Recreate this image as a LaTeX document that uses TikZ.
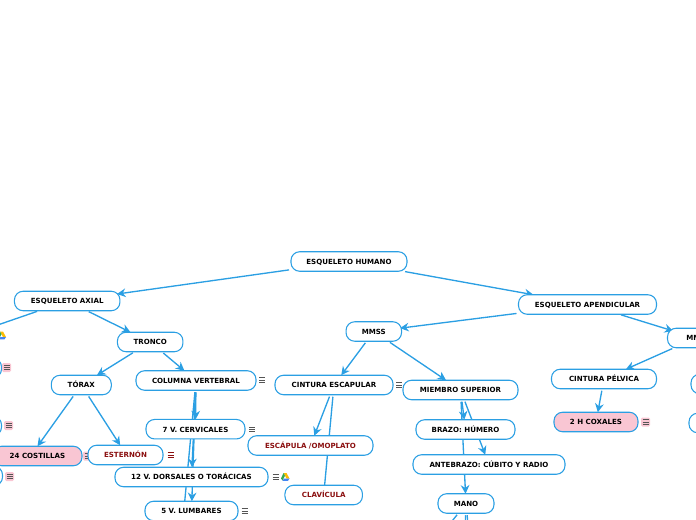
\documentclass[tikz,border=0pt]{standalone}
\usepackage{fontspec}
\setmainfont{DejaVu Sans}
\usetikzlibrary{arrows.meta,backgrounds}
\definecolor{mapblue}{HTML}{2B9FE3}
\definecolor{mappink}{HTML}{F9C6D3}
\definecolor{mapred}{HTML}{8B1010}
\definecolor{mapgray}{HTML}{555555}
\definecolor{drivegreen}{HTML}{34A853}
\definecolor{driveyellow}{HTML}{FBBC04}
\definecolor{driveblue}{HTML}{4285F4}
\newlength{\px}
\setlength{\px}{0.75pt}
\tikzset{
    topic/.style={draw=mapblue, fill=white, line width=0.8pt, rounded corners=6.5pt, inner sep=0pt, outer sep=0pt,
        minimum height=19.5\px, text height=4.4pt, text depth=0pt, text=black,
        font=\bfseries\fontsize{5.3}{7}\selectfont},
    pinktopic/.style={topic, fill=mappink},
    redtopic/.style={topic, text=mapred},
    link/.style={-{Stealth[length=6.5pt,width=6.5pt]}, draw=mapblue, line width=1pt, shorten <=2\px},
    plainlink/.style={draw=mapblue, line width=1pt, shorten <=2\px},
    pics/menubars/.style={code={
        \draw[draw=#1, line width=0.55pt] (-3,-2.3) -- (3,-2.3) (-3,0) -- (3,0) (-3,2.3) -- (3,2.3);
    }},
    pics/pinkbars/.style={code={
        \fill[mappink, rounded corners=1pt] (-4.5,-4.5) rectangle (4.5,4.5);
        \draw[draw=mapgray, line width=0.55pt] (-3,-2.3) -- (3,-2.3) (-3,0) -- (3,0) (-3,2.3) -- (3,2.3);
    }},
    pics/drive/.style={code={
        \fill[driveyellow] (-1.5,-4) -- (1.5,-4) -- (4.5,1.5) -- (1.5,1.5) -- cycle;
        \fill[drivegreen] (-1.5,-4) -- (0,-1.2) -- (-2.5,3.5) -- (-4,1.5) -- cycle;
        \fill[driveblue] (-1,1.5) -- (4.5,1.5) -- (3,3.8) -- (-2.5,3.8) -- cycle;
    }},
}
\begin{document}
\begin{tikzpicture}[x=0.75pt, y=-0.75pt]
    \path[use as bounding box, clip] (0,0) rectangle (696,520);

    \node[topic, minimum width=116\px] (humano) at (349, 261.5) {ESQUELETO HUMANO};
    \node[topic, minimum width=105.5\px] (axial) at (67.2, 301) {ESQUELETO AXIAL};
    \node[topic, minimum width=138\px] (apendicular) at (587.5, 304.5) {ESQUELETO APENDICULAR};

    % tronco
    \node[topic, minimum width=65.5\px] (tronco) at (150.2, 342) {TRONCO};
    \node[topic, minimum width=60\px] (torax) at (81.3, 385) {TÓRAX};
    \node[topic, minimum width=120\px] (columna) at (196, 380.5) {COLUMNA VERTEBRAL};
    \node[pinktopic, minimum width=89\px] (costillas) at (37.5, 456) {24 COSTILLAS};
    \node[redtopic, minimum width=75\px] (esternon) at (125.5, 455) {ESTERNÓN};
    \node[topic, minimum width=99\px] (cervicales) at (195.5, 429.2) {7 V. CERVICALES};
    \node[topic, minimum width=153\px] (dorsales) at (191.5, 477) {12 V. DORSALES O TORÁCICAS};
    \node[topic, minimum width=93\px] (lumbares) at (191.5, 511) {5 V. LUMBARES};

    % mmss
    \node[topic, minimum width=55.5\px] (mmss) at (373.8, 331.5) {MMSS};
    \node[topic, minimum width=118\px] (escapular) at (334, 385) {CINTURA ESCAPULAR};
    \node[redtopic, minimum width=125\px] (escapula) at (310.5, 445.5) {ESCÁPULA /OMOPLATO};
    \node[redtopic, minimum width=77.5\px] (clavicula) at (323.7, 495) {CLAVÍCULA};
    \node[topic, minimum width=115\px] (miembro) at (460.5, 390) {MIEMBRO SUPERIOR};
    \node[topic, minimum width=99\px] (brazo) at (465.5, 429.5) {BRAZO: HÚMERO};
    \node[topic, minimum width=152\px] (antebrazo) at (489, 464.5) {ANTEBRAZO: CÚBITO Y RADIO};
    \node[topic, minimum width=56\px] (mano) at (466, 503.5) {MANO};

    % mm de la derecha
    \node[topic, minimum width=57\px] (mmii) at (696, 338) {MM\phantom{II}};
    \node[topic, minimum width=105\px] (pelvica) at (604, 379) {CINTURA PÉLVICA};
    \node[pinktopic, minimum width=84\px] (coxales) at (596, 422) {2 H COXALES};

    % nodos cortados por el borde
    \node[topic, minimum width=60\px] (cortadoa) at (-28.5, 368) {};
    \node[topic, minimum width=60\px] (cortadob) at (-28.5, 426) {};
    \node[topic, minimum width=60\px] (cortadoc) at (-27.5, 476) {};
    \node[topic, minimum width=60\px] (cortadod) at (721, 384) {};
    \node[topic, minimum width=60\px] (cortadoe) at (719, 423) {};

    \coordinate (salidaaxial) at (-40, 338);
    \coordinate (salidacolumna) at (180, 552);
    \coordinate (salidamanoa) at (445, 530);
    \coordinate (salidamanob) at (465, 535);
    \coordinate (salidamanoc) at (469, 535);

    \begin{pgfonlayer}{background}
        \draw[link, shorten >=-3\px] (humano) -- (axial);
        \draw[link] (humano) -- (apendicular);
        \draw[plainlink] (axial) -- (salidaaxial);
        \draw[link] (axial) -- (tronco);
        \draw[link] (tronco) -- (torax);
        \draw[link] (tronco) -- (columna);
        \draw[link] (torax) -- (costillas.north);
        \draw[link] (torax) -- ([xshift=-4pt]esternon.north);
        \draw[link] (columna) -- (cervicales);
        \draw[link] (columna) -- (dorsales);
        \draw[link] (columna) -- (lumbares);
        \draw[plainlink] (columna) -- (salidacolumna);
        \draw[link, shorten >=-1.5\px] (apendicular) -- (mmss);
        \draw[link, shorten >=-6\px] (apendicular) -- (mmii);
        \draw[link] (mmss) -- (escapular);
        \draw[link] (mmss) -- (miembro);
        \draw[link] (escapular) -- (escapula);
        \draw[plainlink] (escapular) -- (clavicula);
        \draw[link] (miembro) -- (brazo);
        \draw[link] (miembro) -- (antebrazo);
        \draw[link] (miembro) -- (mano);
        \draw[plainlink] (mano) -- (salidamanoa);
        \draw[plainlink] (mano) -- (salidamanob);
        \draw[plainlink] (mano) -- (salidamanoc);
        \draw[link] (mmii) -- (pelvica);
        \draw[link] (pelvica) -- (coxales);
        \pic at (87.5, 456) {pinkbars};
    \end{pgfonlayer}

    % iconos
    \pic at (262, 380) {menubars=mapgray};
    \pic at (252, 429.5) {menubars=mapgray};
    \pic at (275.5, 477) {menubars=mapgray};
    \pic at (244.5, 511) {menubars=mapgray};
    \pic at (399, 385) {menubars=mapgray};
    \pic at (170.5, 455) {menubars=mapred};
    \pic at (645.5, 422) {pinkbars};
    \pic at (6.5, 367.5) {pinkbars};
    \pic at (8.5, 425.5) {pinkbars};
    \pic at (9.5, 476.5) {pinkbars};
    \pic at (285, 477) {drive};
    \pic at (1.5, 335.5) {drive};
\end{tikzpicture}
\end{document}
